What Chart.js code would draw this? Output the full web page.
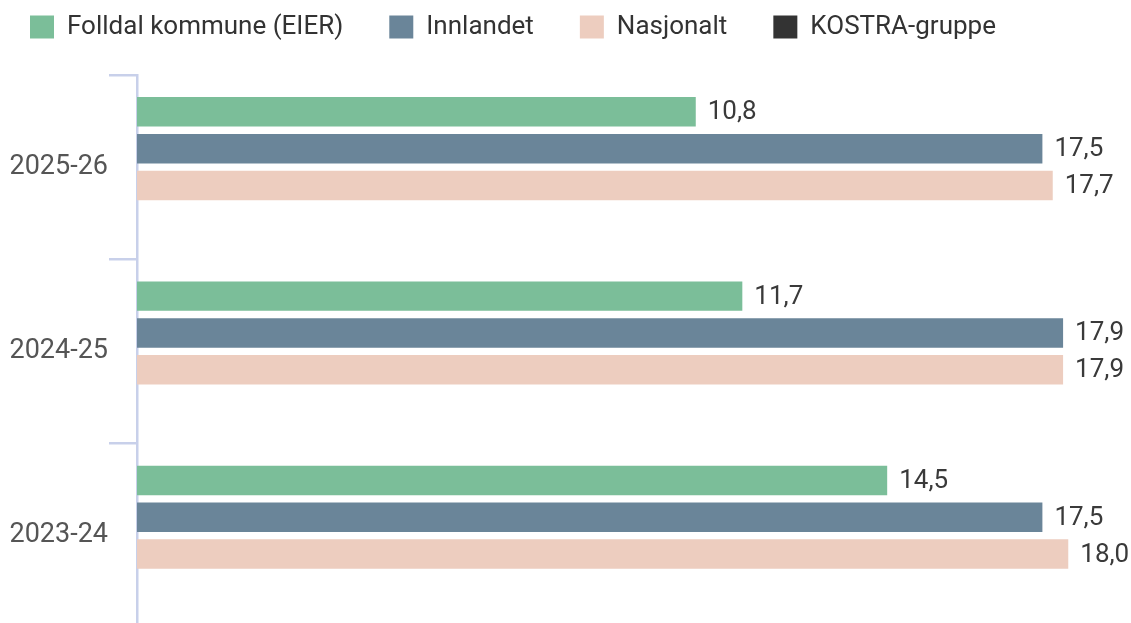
<!DOCTYPE html>
<html>
<head>
<meta charset="utf-8">
<script src="https://cdn.jsdelivr.net/npm/chart.js@4"></script>
<style>
  html, body { margin: 0; padding: 0; overflow: hidden; background: #fff; }
  #wrap { width: 1131px; height: 645px; }
</style>
</head>
<body>
<div id="wrap"><canvas id="chart"></canvas></div>
<script>
const years = ["2025-26", "2024-25", "2023-24"];
const folldal = [10.8, 11.7, 14.5];
const innlandet = [17.5, 17.9, 17.5];
const nasjonalt = [17.7, 17.9, 18.0];
const kostra = [null, null, null];

const COLORS = { folldal: "#7bbe99", innlandet: "#6a8599", nasjonalt: "#edcdbf", kostra: "#333333" };
const FONT = "Roboto";

// pushes the plot down below the legend
const legendGap = {
  id: "legendGap",
  beforeInit(chart) {
    const fit = chart.legend.fit;
    chart.legend.fit = function () {
      fit.bind(chart.legend)();
      this.height += 25;
    };
  },
};

// value labels to the right of each bar
const valueLabels = {
  id: "valueLabels",
  afterDatasetsDraw(chart) {
    const ctx = chart.ctx;
    ctx.save();
    ctx.font = "26px " + FONT;
    ctx.fillStyle = "#3a3a3a";
    ctx.textAlign = "left";
    ctx.textBaseline = "middle";
    chart.data.datasets.forEach((ds, i) => {
      const meta = chart.getDatasetMeta(i);
      meta.data.forEach((bar, j) => {
        const v = ds.data[j];
        if (v == null) return;
        ctx.fillText(v.toFixed(1).replace(".", ","), bar.x + 12, bar.y + 1);
      });
    });
    ctx.restore();
  },
};

const mk = (label, data, color) => ({
  label, data,
  backgroundColor: color,
  borderWidth: 0,
  categoryPercentage: 0.8,
  barPercentage: 0.8,
});

new Chart(document.getElementById("chart").getContext("2d"), {
  type: "bar",
  data: {
    labels: years,
    datasets: [
      mk("Folldal kommune (EIER)", folldal, COLORS.folldal),
      mk("Innlandet", innlandet, COLORS.innlandet),
      mk("Nasjonalt", nasjonalt, COLORS.nasjonalt),
      mk("KOSTRA-gruppe", kostra, COLORS.kostra),
    ],
  },
  options: {
    indexAxis: "y",
    responsive: true,
    maintainAspectRatio: false,
    animation: false,
    layout: { padding: { top: -32, left: -16, right: 11, bottom: 0 } },
    plugins: {
      legend: {
        position: "top",
        align: "start",
        labels: {
          boxWidth: 24,
          boxHeight: 23,
          padding: 46,
          color: "#333",
          font: { family: FONT, size: 26 },
        },
      },
      tooltip: { enabled: false },
    },
    scales: {
      x: { display: false, min: 0, max: 19 },
      y: {
        afterFit(scale) { scale.width = 153; },
        border: { color: "#c8d0ea", width: 2.5 },
        grid: { drawOnChartArea: false, drawTicks: true, tickLength: 28, color: "#c8d0ea", lineWidth: 2.5 },
        ticks: { color: "#555", padding: 1, font: { family: FONT, size: 27 } },
      },
    },
  },
  plugins: [legendGap, valueLabels],
});
</script>
</body>
</html>
